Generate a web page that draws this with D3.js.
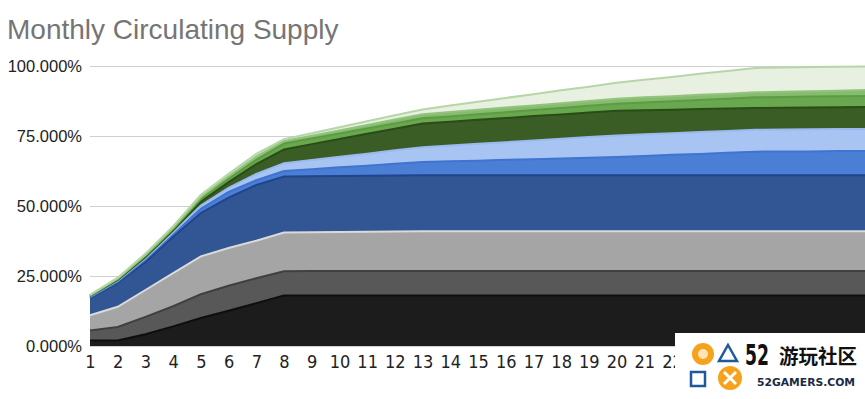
<!DOCTYPE html>
<html>
<head>
<meta charset="utf-8">
<script src="https://cdn.jsdelivr.net/npm/d3@7"></script>
<style>
  body { margin: 0; background: #fff; }
  svg { display: block; }
</style>
</head>
<body>
<div id="chart-area"></div>
<script>
// months on the x axis
var months = [1, 2, 3, 4, 5, 6, 7, 8, 9, 10, 11, 12, 13, 14, 15, 16, 17, 18, 19, 20, 21, 22, 23, 24, 25, 26, 27, 28, 29];
// labels that are not hidden by the corner logo
var monthLabels = [1, 2, 3, 4, 5, 6, 7, 8, 9, 10, 11, 12, 13, 14, 15, 16, 17, 18, 19, 20, 21, 22];

// each band's share of supply (%), bottom to top
var band1 = [2, 2, 4.2, 7, 10, 12.6, 15.3, 18, 18, 18, 18, 18, 18, 18, 18, 18, 18, 18, 18, 18, 18, 18, 18, 18, 18, 18, 18, 18, 18];
var band2 = [3.5, 4.8, 6.2, 7.2, 8.5, 8.9, 8.9, 8.7, 8.8, 8.8, 8.8, 8.8, 8.8, 8.8, 8.8, 8.8, 8.8, 8.8, 8.8, 8.8, 8.8, 8.8, 8.8, 8.8, 8.8, 8.8, 8.8, 8.8, 8.8];
var band3 = [5.5, 7.2, 9.6, 11.8, 13.5, 13.5, 13.4, 13.8, 13.8, 13.9, 14, 14.1, 14.2, 14.2, 14.2, 14.2, 14.2, 14.2, 14.2, 14.2, 14.2, 14.2, 14.2, 14.2, 14.2, 14.2, 14.2, 14.2, 14.2];
var band4 = [6, 8.5, 10, 13, 15.5, 18, 19.9, 20, 20, 20, 20, 20, 20, 20, 20, 20, 20, 20, 20, 20, 20, 20, 20, 20, 20, 20, 20, 20, 20];
var band5 = [0.4, 0.5, 0.8, 1, 1.5, 2, 1.7, 2, 2.5, 3.1, 3.6, 4.2, 4.7, 5, 5.2, 5.5, 5.7, 6, 6.2, 6.5, 6.9, 7.3, 7.6, 8, 8.4, 8.5, 8.5, 8.6, 8.6];
var band6 = [0.2, 0.3, 0.5, 0.6, 1.2, 1.5, 2.3, 2.8, 3.3, 3.8, 4.3, 4.8, 5.3, 5.6, 6, 6.3, 6.7, 7, 7.4, 7.7, 7.7, 7.7, 7.8, 7.8, 7.8, 7.8, 7.9, 7.9, 7.9];
var band7 = [0.2, 0.3, 0.5, 0.7, 1.3, 2, 3.5, 4.9, 5.7, 6.3, 7.1, 7.7, 8.5, 8.5, 8.6, 8.6, 8.7, 8.7, 8.8, 8.8, 8.6, 8.4, 8.2, 8, 7.8, 7.8, 7.8, 7.8, 7.9];
var band8 = [0.2, 0.3, 0.4, 0.5, 1, 1.3, 1.5, 2.1, 2, 2, 1.9, 1.9, 1.8, 1.9, 2, 2.1, 2.2, 2.3, 2.4, 2.5, 2.8, 3, 3.3, 3.5, 3.8, 3.8, 3.9, 3.9, 3.9];
var band9 = [0.1, 0.2, 0.3, 0.4, 0.7, 0.8, 1.1, 0.9, 1, 1.1, 1.2, 1.4, 1.5, 1.6, 1.6, 1.7, 1.6, 1.7, 1.7, 1.8, 1.8, 1.8, 1.8, 1.8, 1.8, 1.9, 1.9, 2, 2.1];
var band10 = [0.2, 0.3, 0.5, 0.6, 0.8, 0.9, 1, 0.7, 0.9, 1.1, 1.4, 1.5, 1.7, 2.3, 2.8, 3.4, 4, 4.6, 5.1, 5.7, 6.3, 6.9, 7.5, 8.1, 8.7, 8.7, 8.6, 8.5, 8.4];

var yTicks = [0, 25, 50, 75, 100];

var fills = ["#1c1c1c", "#585858", "#a5a5a5", "#315693", "#4b7fd6", "#a8c4f2", "#395d24", "#6aa84f", "#86bc6e", "#e7f0e1"];
var strokes = ["#0e0e0e", "#404040", "#dadada", "#20458a", "#3f74cf", "#9ab9ee", "#2a4c16", "#5d9c43", "#93c47d", "#b7d6a8"];

var bands = [band1, band2, band3, band4, band5, band6, band7, band8, band9, band10];
var keys = bands.map(function(b, i) { return "b" + (i + 1); });

var rows = months.map(function(m, i) {
  var r = {month: m};
  bands.forEach(function(b, k) { r[keys[k]] = b[i]; });
  return r;
});

var width = 865, height = 399;

var svg = d3.select("#chart-area")
  .append("svg")
    .attr("width", width)
    .attr("height", height);

// title
svg.append("text")
  .attr("x", 7)
  .attr("y", 39)
  .text("Monthly Circulating Supply")
  .attr("font-family", "Liberation Sans, Arial, sans-serif")
  .attr("font-size", "28px")
  .attr("fill", "#757575");

var x = d3.scaleLinear().domain([1, 29]).range([90, 866]);
var y = d3.scaleLinear().domain([0, 100]).range([346, 66]);

// gridlines + y labels
var yAxis = d3.axisLeft(y)
  .tickValues(yTicks)
  .tickSize(-(866 - 90))
  .tickPadding(8)
  .tickFormat(function(d) { return d.toFixed(3) + "%"; });

var gy = svg.append("g")
  .attr("transform", "translate(90,0)")
  .call(yAxis);
gy.select(".domain").remove();
gy.selectAll(".tick line").attr("stroke", "#d0d0d0").attr("stroke-width", 1.2);
gy.selectAll(".tick text")
  .attr("font-family", "Liberation Sans, Arial, sans-serif")
  .attr("font-size", "16.5px")
  .attr("fill", "#222");

var stacked = d3.stack().keys(keys)(rows);

var area = d3.area()
  .x(function(d) { return x(d.data.month); })
  .y0(function(d) { return y(d[0]); })
  .y1(function(d) { return y(d[1]); });

var topLine = d3.line()
  .x(function(d) { return x(d.data.month); })
  .y(function(d) { return y(d[1]); });

svg.append("g").selectAll("path")
  .data(stacked)
  .enter().append("path")
    .attr("d", area)
    .attr("fill", function(d, i) { return fills[i]; });

svg.append("g").selectAll("path")
  .data(stacked)
  .enter().append("path")
    .attr("d", topLine)
    .attr("fill", "none")
    .attr("stroke", function(d, i) { return strokes[i]; })
    .attr("stroke-width", 2);

// x labels
var xAxis = d3.axisBottom(x)
  .tickValues(monthLabels)
  .tickSize(0)
  .tickPadding(9)
  .tickFormat(function(d) { return d; });

var gx = svg.append("g")
  .attr("transform", "translate(0,346)")
  .call(xAxis);
gx.select(".domain").remove();
gx.selectAll(".tick text")
  .attr("font-family", "Liberation Sans Narrow, DejaVu Sans Condensed, sans-serif")
  .attr("font-stretch", "condensed")
  .attr("font-size", "18px")
  .attr("fill", "#222");

// watermark box in the corner
var wm = svg.append("g");
wm.append("rect")
  .attr("x", 675).attr("y", 333)
  .attr("width", 190).attr("height", 66)
  .attr("fill", "#fff");
wm.append("circle").attr("cx", 703).attr("cy", 354).attr("r", 11)
  .attr("fill", "#f7a21b");
wm.append("circle").attr("cx", 703).attr("cy", 354).attr("r", 5)
  .attr("fill", "#fde3b8");
wm.append("path")
  .attr("d", "M728,345 L737,361 L719,361 Z")
  .attr("fill", "none").attr("stroke", "#1d5a9c").attr("stroke-width", 2.5);
wm.append("rect").attr("x", 691).attr("y", 372).attr("width", 14).attr("height", 14)
  .attr("fill", "none").attr("stroke", "#1d5a9c").attr("stroke-width", 2.5);
wm.append("circle").attr("cx", 730).attr("cy", 378).attr("r", 12)
  .attr("fill", "#f7a21b");
wm.append("path")
  .attr("d", "M724,372 L736,384 M736,372 L724,384")
  .attr("stroke", "#fff").attr("stroke-width", 3);
wm.append("text")
  .attr("x", 745).attr("y", 365)
  .text("52")
  .attr("font-family", "Liberation Sans Narrow, DejaVu Sans Condensed, sans-serif")
  .attr("font-weight", "bold")
  .attr("font-size", "28px")
  .attr("textLength", 24)
  .attr("lengthAdjust", "spacingAndGlyphs")
  .attr("fill", "#111");
wm.append("text")
  .attr("x", 779).attr("y", 364)
  .text("游玩社区")
  .attr("font-family", "Noto Sans CJK SC, sans-serif")
  .attr("font-weight", "bold")
  .attr("font-size", "20px")
  .attr("textLength", 78)
  .attr("lengthAdjust", "spacingAndGlyphs")
  .attr("fill", "#111");
wm.append("text")
  .attr("x", 757).attr("y", 386)
  .text("52GAMERS.COM")
  .attr("font-family", "DejaVu Sans, sans-serif")
  .attr("font-weight", "bold")
  .attr("font-size", "10px")
  .attr("textLength", 98)
  .attr("lengthAdjust", "spacingAndGlyphs")
  .attr("fill", "#1a2a44");
</script>
</body>
</html>
